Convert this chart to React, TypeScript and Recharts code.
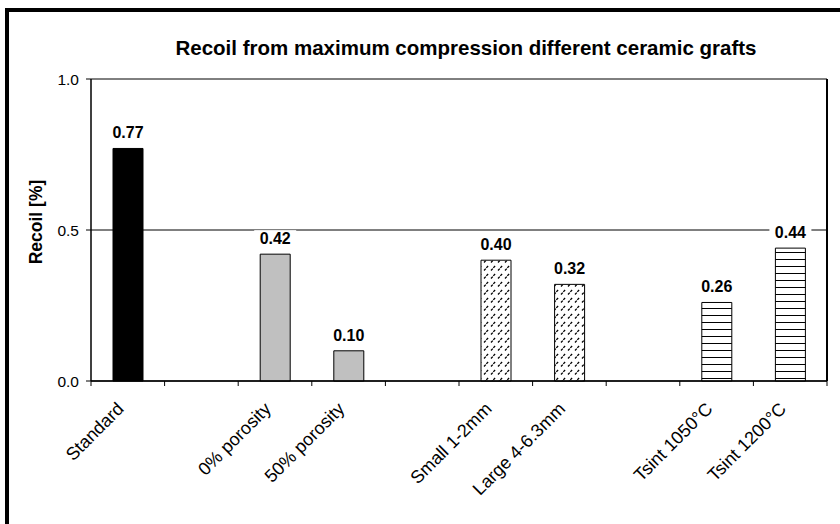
import { Bar, BarChart, CartesianGrid, Cell, LabelList, XAxis, YAxis } from "recharts";

const FONT = "Arial, 'Liberation Sans', sans-serif";

const CHART_W = 840;
const CHART_H = 524;
const MARGIN = { top: 79, right: 12, bottom: 23, left: 36 };
const Y_AXIS_W = 55;
const RIGHT_AXIS_W = 1;

// categories, with blank slots separating the groups
const categories = [
  "Standard",
  "",
  "0% porosity",
  "50% porosity",
  "",
  "Small 1-2mm",
  "Large 4-6.3mm",
  "",
  "Tsint 1050°C",
  "Tsint 1200°C",
];
const recoil: (number | null)[] = [0.77, null, 0.42, 0.1, null, 0.4, 0.32, null, 0.26, 0.44];
const fillKind = ["solid", "", "grey", "grey", "", "dash", "dash", "", "hline", "hline"];
const yTicks = [0, 0.5, 1.0];

const FILLS: Record<string, string> = {
  solid: "#000000",
  grey: "#c0c0c0",
  dash: "url(#dashPattern)",
  hline: "url(#hlinePattern)",
};

const data = categories.map((name, i) => ({ name, value: recoil[i], kind: fillKind[i] }));

const PLOT_W = CHART_W - MARGIN.left - MARGIN.right - Y_AXIS_W - RIGHT_AXIS_W;
const SLOT = PLOT_W / categories.length;

function Patterns() {
  return (
    <svg width={0} height={0} style={{ position: "absolute" }}>
      <defs>
        <pattern id="hlinePattern" patternUnits="userSpaceOnUse" width={8} height={7}>
          <rect width={8} height={7} fill="#fff" />
          <line x1={0} y1={0.5} x2={8} y2={0.5} stroke="#000" strokeWidth={1} />
        </pattern>
        <pattern id="dashPattern" patternUnits="userSpaceOnUse" width={7} height={8}>
          <rect width={7} height={8} fill="#fff" />
          <line x1={1} y1={6.5} x2={5.5} y2={1.5} stroke="#000" strokeWidth={1.3} strokeDasharray="2.6 0.9" />
        </pattern>
      </defs>
    </svg>
  );
}

function XTick(props: any) {
  const { x, y, payload, index } = props;
  const left = x - SLOT / 2;
  const ax = x - 3;
  const ay = y + 29;
  return (
    <g>
      <line x1={left} y1={y} x2={left} y2={y + 5} stroke="#000" strokeWidth={1} />
      {index === categories.length - 1 && (
        <line x1={x + SLOT / 2} y1={y} x2={x + SLOT / 2} y2={y + 5} stroke="#000" strokeWidth={1} />
      )}
      <text
        x={ax}
        y={ay}
        textAnchor="end"
        transform={`rotate(-45 ${ax} ${ay})`}
        fontFamily={FONT}
        fontSize={18}
        fill="#000"
      >
        {payload.value}
      </text>
    </g>
  );
}

function ValueLabel(props: any) {
  const { x, y, width, value } = props;
  if (value == null) return null;
  const cx = x + width / 2;
  const base = y - 10;
  return (
    <g>
      <rect x={cx - 21} y={base - 14} width={42} height={17} fill="#fff" />
      <text x={cx} y={base} textAnchor="middle" fontFamily={FONT} fontSize={16} fontWeight="bold" fill="#000">
        {Number(value).toFixed(2)}
      </text>
    </g>
  );
}

export default function App() {
  return (
    <div
      style={{
        position: "fixed",
        left: 0,
        top: 0,
        width: CHART_W,
        height: CHART_H,
        overflow: "hidden",
        background: "#fff",
      }}
    >
      <Patterns />
      <div
        style={{
          position: "absolute",
          left: 5,
          top: 8,
          width: 1000,
          height: 800,
          border: "4px solid #000",
        }}
      />
      <svg width={CHART_W} height={CHART_H} style={{ position: "absolute", left: 0, top: 0 }}>
        <text x={466} y={55} textAnchor="middle" fontFamily={FONT} fontSize={20.5} fontWeight="bold" fill="#000">
          Recoil from maximum compression different ceramic grafts
        </text>
        <text
          x={42}
          y={222}
          textAnchor="middle"
          transform="rotate(-90 42 222)"
          fontFamily={FONT}
          fontSize={17.5}
          fontWeight="bold"
          fill="#000"
        >
          Recoil [%]
        </text>
      </svg>
      <div style={{ position: "absolute", left: 0, top: 0 }}>
        <BarChart width={CHART_W} height={CHART_H} data={data} margin={MARGIN} barSize={30}>
          <CartesianGrid vertical={false} stroke="#000" strokeWidth={1} />
          <XAxis
            dataKey="name"
            interval={0}
            height={120}
            tickLine={false}
            tickSize={0}
            tickMargin={0}
            axisLine={{ stroke: "#000", strokeWidth: 1.5 }}
            tick={<XTick />}
          />
          <YAxis
            domain={[0, 1]}
            ticks={yTicks}
            width={Y_AXIS_W}
            tickFormatter={(v: number) => v.toFixed(1)}
            tick={{ fontFamily: FONT, fontSize: 15.5, fill: "#000" }}
            tickLine={{ stroke: "#000" }}
            tickSize={5}
            tickMargin={7}
            axisLine={{ stroke: "#000", strokeWidth: 1.5 }}
          />
          <YAxis
            yAxisId="right"
            orientation="right"
            domain={[0, 1]}
            width={RIGHT_AXIS_W}
            tick={false}
            tickLine={false}
            axisLine={{ stroke: "#000", strokeWidth: 2 }}
          />
          <Bar dataKey="value" stroke="#000" strokeWidth={1} isAnimationActive={false}>
            {data.map((d, i) => (
              <Cell key={i} fill={FILLS[d.kind] ?? "none"} />
            ))}
            <LabelList dataKey="value" content={<ValueLabel />} />
          </Bar>
        </BarChart>
      </div>
    </div>
  );
}
